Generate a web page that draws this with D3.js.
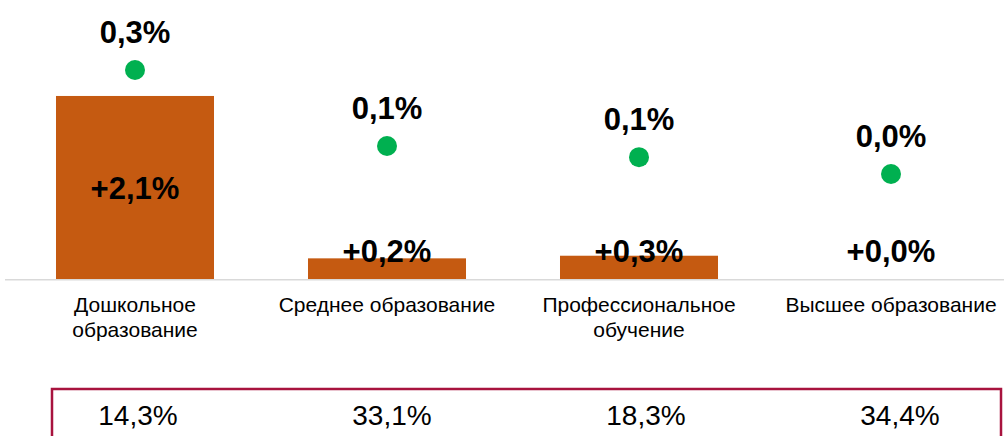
<!DOCTYPE html>
<html><head><meta charset="utf-8">
<script src="https://cdn.jsdelivr.net/npm/d3@7"></script>
<style>html,body{margin:0;padding:0;background:#fff;overflow:hidden}svg{display:block;font-family:"Liberation Sans",Arial,sans-serif}</style>
</head><body>
<svg id="c" width="1004" height="436"></svg>
<script>
const categories = [["Дошкольное","образование"],["Среднее образование"],["Профессиональное","обучение"],["Высшее образование"]];
const barValues = [2.1, 0.24, 0.27, 0.0];
const dotValues = [0.30, 0.088, 0.057, 0.01];
const shareLabels = ["14,3%","33,1%","18,3%","34,4%"];

const svg = d3.select("#c");
const ids = categories.map((d,i)=>i);
const x = d3.scaleBand().domain(ids).range([9,1017]).paddingInner(0.373).paddingOuter(0.1865);
const xs = d3.scalePoint().domain(ids).range([138,900]);
const y = d3.scaleLinear().domain([0,2.5]).range([279.3, 279.3-2.5*87.3]);
const y2 = d3.scaleLinear().domain([0,0.3]).range([177.6,70]);
const fmt = v => v.toFixed(1).replace(".", ",");

// bars
svg.selectAll("rect.bar").data(barValues).join("rect").attr("class","bar")
  .attr("x",(d,i)=>x(i)).attr("width",x.bandwidth())
  .attr("y",d=>y(d)).attr("height",d=>y(0)-y(d)).attr("fill","#C55A11");

// axis line
svg.append("line").attr("x1",5).attr("x2",1004).attr("y1",y(0)+0.5).attr("y2",y(0)+0.5)
  .attr("stroke","#d9d9d9").attr("stroke-width",1.5);

// bar labels
svg.selectAll("text.bl").data(barValues).join("text").attr("class","bl")
  .attr("x",(d,i)=>x(i)+x.bandwidth()/2)
  .attr("y",d=>Math.min((y(d)+y(0))/2, y(0)-28))
  .attr("dy","0.36em").attr("text-anchor","middle")
  .attr("font-size",31).attr("font-weight","bold").attr("fill","#000")
  .text(d=>"+"+fmt(d)+"%");

// dots
svg.selectAll("circle.dot").data(dotValues).join("circle").attr("class","dot")
  .attr("cx",(d,i)=>x(i)+x.bandwidth()/2).attr("cy",d=>y2(d)).attr("r",10).attr("fill","#00B050");
svg.selectAll("text.dl").data(dotValues).join("text").attr("class","dl")
  .attr("x",(d,i)=>x(i)+x.bandwidth()/2).attr("y",d=>y2(d)-27.5)
  .attr("text-anchor","middle").attr("font-size",31).attr("font-weight","bold").attr("fill","#000")
  .text(d=>fmt(d)+"%");

// category labels
const cl = svg.selectAll("text.cat").data(categories).join("text").attr("class","cat")
  .attr("text-anchor","middle").attr("font-size",21).attr("fill","#000");
cl.each(function(lines,i){
  d3.select(this).selectAll("tspan").data(lines).join("tspan")
    .attr("x",x(i)+x.bandwidth()/2).attr("y",(l,j)=>312+j*25).text(l=>l);
});

// bottom box
svg.append("rect").attr("x",52).attr("y",389).attr("width",949).attr("height",80)
  .attr("fill","none").attr("stroke","#A8133E").attr("stroke-width",2.5);
svg.selectAll("text.sh").data(shareLabels).join("text").attr("class","sh")
  .attr("x",(d,i)=>xs(i)).attr("y",425)
  .attr("text-anchor","middle").attr("font-size",28).attr("fill","#000")
  .text(d=>d);
</script>
</body></html>
